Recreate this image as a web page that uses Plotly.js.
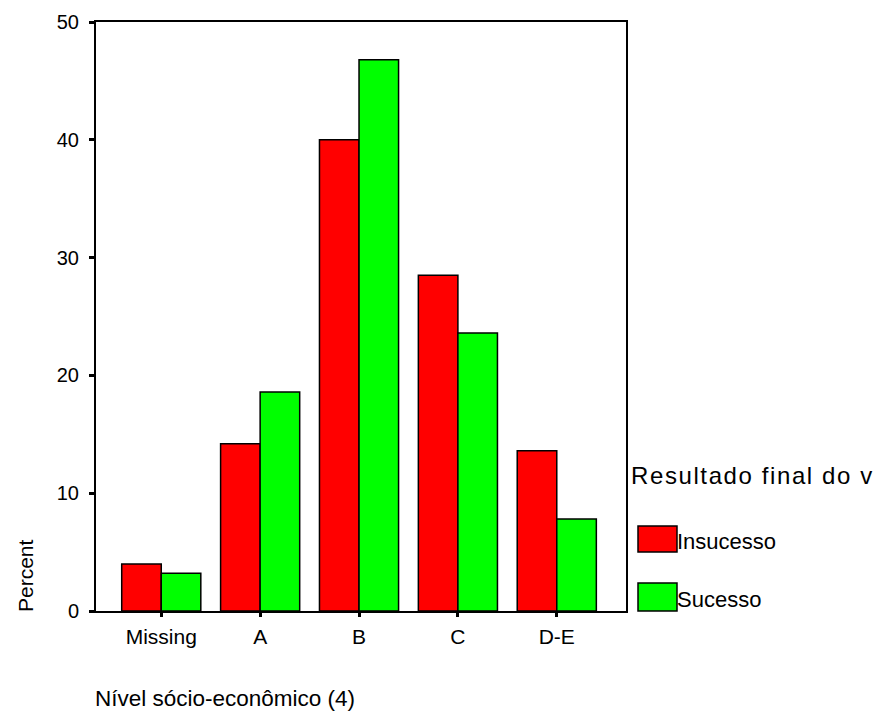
<!DOCTYPE html>
<html>
<head>
<meta charset="utf-8">
<script src="https://cdn.plot.ly/plotly-3.0.1.min.js"></script>
<style>
html,body{margin:0;padding:0;background:#fff;}
g.annotation[data-index="2"] text{letter-spacing:1.6px;}
</style>
</head>
<body>
<div id="chart" style="width:881px;height:713px;"></div>
<script>
// Data
const categories = ["Missing", "A", "B", "C", "D-E"];
const seriesNames = ["Insucesso", "Sucesso"];
const insucesso = [4.0, 14.2, 40.0, 28.5, 13.6];
const sucesso = [3.2, 18.6, 46.8, 23.6, 7.8];
const yTickVals = [0, 10, 20, 30, 40, 50];
const colors = ["#ff0000", "#00ff00"];

// Plot-area geometry (pixels)
const W = 881, H = 713;
const L = 96, R = 626, T = 22, B = 611;
const pw = R - L, ph = B - T;
const px = x => (x - L) / pw;
const py = y => (B - y) / ph;

const font = "Liberation Sans, Arial, sans-serif";

const traces = [insucesso, sucesso].map((vals, i) => ({
  type: "bar",
  name: seriesNames[i],
  x: categories,
  y: vals,
  marker: { color: colors[i], line: { color: "#000", width: 1.5 } },
  showlegend: false,
  hoverinfo: "x+y+name"
}));

const shapes = [];
const annotations = [];

// Y title
annotations.push({
  text: "Percent", xref: "paper", yref: "paper",
  x: px(25), y: py(576), xanchor: "center", yanchor: "middle",
  textangle: -90, showarrow: false,
  font: { family: font, size: 21, color: "#000" }
});
// X title
annotations.push({
  text: "Nível sócio-econômico (4)", xref: "paper", yref: "paper",
  x: px(93), y: py(698), xanchor: "left", yanchor: "middle",
  showarrow: false, font: { family: font, size: 22.5, color: "#000" }
});
// Legend title
annotations.push({
  text: "Resultado final do v", xref: "paper", yref: "paper",
  x: px(645), y: py(475), xanchor: "left", yanchor: "middle",
  showarrow: false, font: { family: font, size: 24, color: "#000" }
});
// Legend entries
const legendRows = [[526, 552], [583, 611]];
seriesNames.forEach((nm, i) => {
  const [y0, y1] = legendRows[i];
  shapes.push({
    type: "rect", xref: "paper", yref: "paper",
    x0: px(638), x1: px(677), y0: py(y1), y1: py(y0),
    fillcolor: colors[i], line: { color: "#000", width: 1.5 }
  });
  annotations.push({
    text: nm, xref: "paper", yref: "paper",
    x: px(675), y: py((y0 + y1) / 2 + 2), xanchor: "left", yanchor: "middle",
    showarrow: false, font: { family: font, size: 22, color: "#000" }
  });
});

const layout = {
  width: W, height: H,
  margin: { l: L, r: W - R, t: T, b: H - B, pad: 0 },
  paper_bgcolor: "#fff", plot_bgcolor: "#fff",
  barmode: "group", bargap: 0.2, bargroupgap: 0,
  showlegend: false,
  font: { family: font, size: 20, color: "#000" },
  xaxis: {
    type: "category",
    range: [-0.66, 4.7],
    showline: true, linecolor: "#000", linewidth: 2, mirror: true,
    ticks: "outside", ticklen: 4, tickwidth: 3, tickcolor: "#000",
    showgrid: false, zeroline: false,
    tickfont: { family: font, size: 21, color: "#000" },
    ticklabelstandoff: 2
  },
  yaxis: {
    range: [0, 50],
    tickvals: yTickVals,
    showline: true, linecolor: "#000", linewidth: 2, mirror: true,
    ticks: "outside", ticklen: 5, tickwidth: 3, tickcolor: "#000",
    showgrid: false, zeroline: false,
    tickfont: { family: font, size: 20, color: "#000" },
    ticklabelstandoff: 6
  },
  shapes: shapes,
  annotations: annotations
};

Plotly.newPlot("chart", traces, layout, { displayModeBar: false, staticPlot: true });
</script>
</body>
</html>
